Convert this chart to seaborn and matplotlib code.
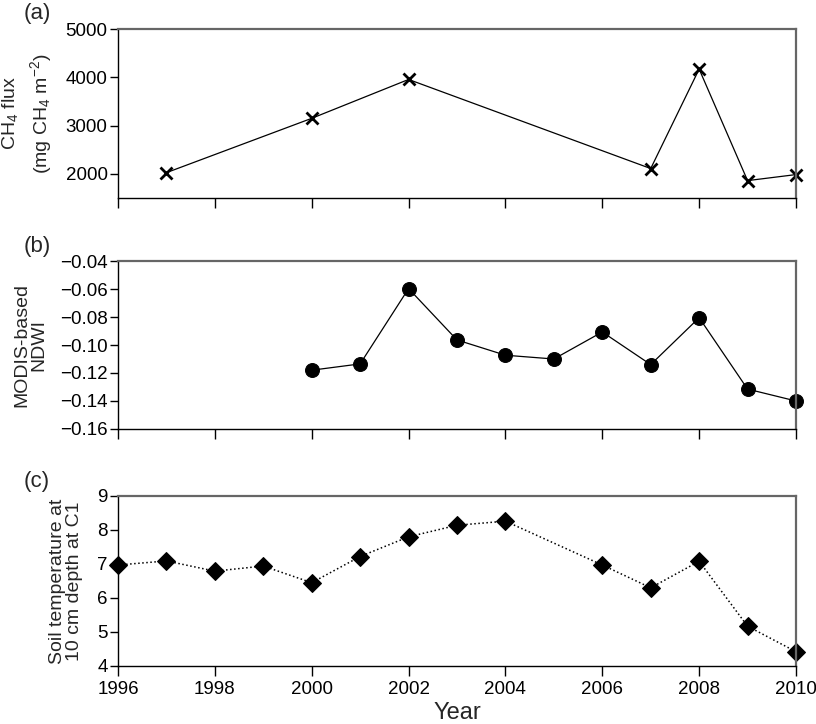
import numpy as np
import pandas as pd
import seaborn as sns
import matplotlib.pyplot as plt

sns.set_style("ticks")
plt.rcParams['font.family'] = ['Liberation Sans', 'DejaVu Sans']
plt.rcParams['mathtext.default'] = 'regular'

# (a) CH4 flux
ch4_years = [1997, 2000, 2002, 2007, 2008, 2009, 2010]
ch4_flux = [2025, 3150, 3955, 2110, 4170, 1860, 1985]

# (b) MODIS-based NDWI
ndwi_years = [2000, 2001, 2002, 2003, 2004, 2005, 2006, 2007, 2008, 2009, 2010]
ndwi = [-0.118, -0.1135, -0.0597, -0.0964, -0.1073, -0.110, -0.0907, -0.114, -0.0805, -0.1315, -0.140]

# (c) soil temperature at 10 cm depth
soil_years = [1996, 1997, 1998, 1999, 2000, 2001, 2002, 2003, 2004, 2006, 2007, 2008, 2009, 2010]
soil_temp = [6.97, 7.09, 6.79, 6.94, 6.45, 7.22, 7.80, 8.14, 8.26, 6.97, 6.30, 7.08, 5.17, 4.42]

x_ticks = list(range(1996, 2011, 2))

W, H = 816, 724
fig = plt.figure(figsize=(W / 100, H / 100), dpi=100)
left, right = 118, 796
ax_a = fig.add_axes([left / W, 1 - 198 / H, (right - left) / W, 169 / H])
ax_b = fig.add_axes([left / W, 1 - 429 / H, (right - left) / W, 168 / H])
ax_c = fig.add_axes([left / W, 1 - 666 / H, (right - left) / W, 170 / H])

df_a = pd.DataFrame({"year": ch4_years, "val": ch4_flux})
df_b = pd.DataFrame({"year": ndwi_years, "val": ndwi})
df_c = pd.DataFrame({"year": soil_years, "val": soil_temp})

sns.lineplot(data=df_a, x="year", y="val", ax=ax_a, color="black", lw=0.9,
             marker="x", markersize=8, markeredgewidth=2, markeredgecolor="black",
             clip_on=False)
sns.lineplot(data=df_b, x="year", y="val", ax=ax_b, color="black", lw=0.9,
             marker="o", markersize=10, markeredgecolor="black", markerfacecolor="black",
             clip_on=False)
sns.lineplot(data=df_c, x="year", y="val", ax=ax_c, color="black", lw=1.1, ls=":",
             marker="D", markersize=9, markeredgecolor="black", markerfacecolor="black",
             clip_on=False)

ax_a.set_ylim(1500, 5000)
ax_a.set_yticks([2000, 3000, 4000, 5000])
ax_b.set_ylim(-0.16, -0.04)
ax_b.set_yticks(np.round(np.arange(-0.16, -0.039, 0.02), 2))
ax_b.set_yticklabels(["\u2212%.2f" % abs(v) for v in ax_b.get_yticks()])
ax_c.set_ylim(4, 9)
ax_c.set_yticks([4, 5, 6, 7, 8, 9])

for ax in (ax_a, ax_b, ax_c):
    ax.set_xlim(1996, 2010)
    ax.set_xticks(x_ticks)
    ax.tick_params(axis="y", direction="out", length=5.5, width=1, labelsize=13.5, colors="black", pad=2)
    ax.tick_params(axis="x", direction="out", length=7, width=1, labelsize=13.5, colors="black", pad=4)
    for s in ("left", "bottom"):
        ax.spines[s].set_color("black")
        ax.spines[s].set_linewidth(1.0)
    for s in ("top", "right"):
        ax.spines[s].set_visible(True)
        ax.spines[s].set_color("#666666")
        ax.spines[s].set_linewidth(1.6)
    ax.set_xlabel("")

ax_a.tick_params(axis="x", labelbottom=False)
ax_b.tick_params(axis="x", labelbottom=False)

ax_a.set_ylabel("CH$_4$ flux\n(mg CH$_4$ m$^{-2}$)", fontsize=14, linespacing=1.45, labelpad=8)
ax_b.set_ylabel("MODIS-based\nNDWI", fontsize=14, linespacing=1.0, labelpad=9)
ax_c.set_ylabel("Soil temperature at\n10 cm depth at C1", fontsize=14, linespacing=1.0, labelpad=10)
ax_c.set_xlabel("Year", fontsize=17, labelpad=3)

fig.text(37 / W, 1 - 14 / H, "(a)", fontsize=16, ha="center", va="center")
fig.text(37 / W, 1 - 247 / H, "(b)", fontsize=16, ha="center", va="center")
fig.text(37 / W, 1 - 481 / H, "(c)", fontsize=16, ha="center", va="center")

fig.savefig("out.png", dpi=100)
